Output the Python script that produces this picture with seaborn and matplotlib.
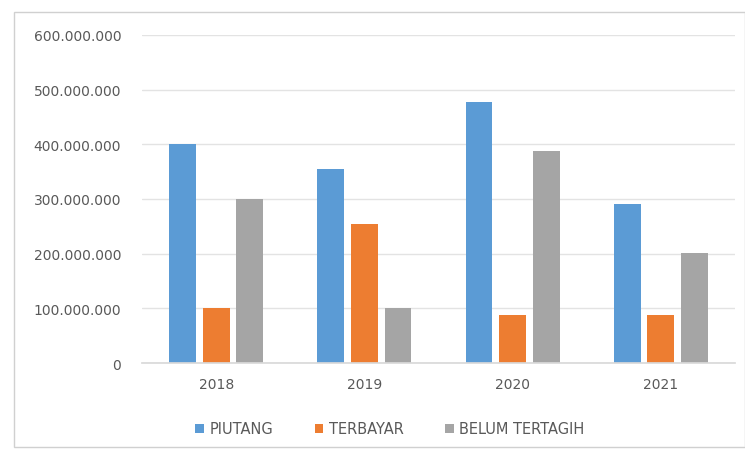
import matplotlib
matplotlib.use("Agg")
import matplotlib.pyplot as plt
import seaborn as sns
import pandas as pd
from matplotlib.patches import Rectangle
from matplotlib.ticker import FuncFormatter, MultipleLocator

years = ["2018", "2019", "2020", "2021"]
piutang = [400_000_000, 355_000_000, 478_000_000, 290_000_000]
terbayar = [100_000_000, 254_000_000, 88_000_000, 88_000_000]
belum = [300_000_000, 101_000_000, 388_000_000, 202_000_000]
series = ["PIUTANG", "TERBAYAR", "BELUM TERTAGIH"]
colors = ["#5B9BD5", "#ED7D31", "#A5A5A5"]

rows = []
for name, vals in zip(series, [piutang, terbayar, belum]):
    for y, v in zip(years, vals):
        rows.append({"Tahun": y, "Nilai": v, "Seri": name})
df = pd.DataFrame(rows)

sns.set_theme(style="white")
plt.rcParams["font.family"] = ["DejaVu Sans"]

fig = plt.figure(figsize=(7.45, 4.52), dpi=100)
ax = fig.add_axes([142/745, 1-364/452, (735-142)/745, (364-36)/452])

sns.barplot(data=df, x="Tahun", y="Nilai", hue="Seri", hue_order=series,
            palette=colors, width=0.68, gap=0.2, saturation=1, linewidth=0,
            errorbar=None, ax=ax, legend=True)

ax.set_xlim(-0.5, 3.5)
ax.set_ylim(0, 600_000_000)
ax.yaxis.set_major_locator(MultipleLocator(100_000_000))
ax.yaxis.set_major_formatter(FuncFormatter(lambda v, p: f"{int(v):,}".replace(",", ".")))
ax.grid(axis="y", color="#E3E3E3", linewidth=1)
ax.set_axisbelow(True)
for s in ["top", "right", "left"]:
    ax.spines[s].set_visible(False)
ax.spines["bottom"].set_color("#D9D9D9")
ax.tick_params(axis="y", length=0, pad=15, labelsize=10, labelcolor="#595959")
ax.tick_params(axis="x", length=0, pad=10, labelsize=10, labelcolor="#595959")
ax.set_xlabel("")
ax.set_ylabel("")

handles, labels = ax.get_legend_handles_labels()
ax.get_legend().remove()
fig.legend(handles, labels, loc="center", bbox_to_anchor=(390/745, 1-430/452),
           ncol=3, frameon=False, fontsize=10.5, labelcolor="#595959",
           handlelength=0.6, handleheight=0.6, handletextpad=0.4, columnspacing=2.8)

fig.patches.append(Rectangle((14/745, 1-448/452), (745-14)/745, (448-13)/452,
                             transform=fig.transFigure, fill=False,
                             edgecolor="#D0D0D0", linewidth=1))

fig.savefig("out.png", dpi=100, facecolor="white")
